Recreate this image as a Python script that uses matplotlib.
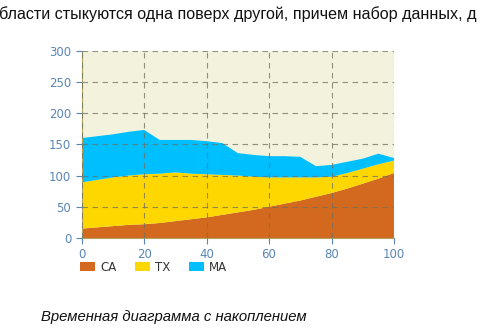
import matplotlib
matplotlib.use('Agg')
import matplotlib.pyplot as plt
import numpy as np

# ---- data ----
x = [0, 5, 10, 15, 20, 25, 30, 35, 40, 45, 50, 55, 60, 65, 70, 75, 80, 85, 90, 95, 100]
ca = [15, 17, 19, 21, 22, 24, 27, 30, 33, 37, 41, 45, 50, 55, 60, 66, 72, 79, 87, 95, 104]
tx_top = [89, 93, 97, 100, 102, 103, 105, 103, 102, 101, 100, 98, 97, 97, 97, 97, 98, 104, 111, 118, 124]
ma_top = [160, 163, 166, 170, 173, 157, 157, 157, 155, 152, 136, 133, 131, 131, 130, 115, 117, 122, 127, 135, 128]
tx = [t - c for t, c in zip(tx_top, ca)]
ma = [m - t for m, t in zip(ma_top, tx_top)]

labels = ['CA', 'TX', 'MA']
colors = ['#D2691E', '#FFD700', '#00BFFF']

tick_color = '#5A86B5'
spine_color = '#B5A15A'

fig = plt.figure(figsize=(4.9, 3.31), dpi=100)
ax = fig.add_axes([0.1667, 0.281, 0.6373, 0.566])
ax.set_facecolor('#F3F2DC')

ax.stackplot(x, ca, tx, ma, colors=colors, labels=labels, linewidth=0)

ax.set_xlim(0, 100)
ax.set_ylim(0, 300)
ax.set_xticks([0, 20, 40, 60, 80, 100])
ax.set_yticks([0, 50, 100, 150, 200, 250, 300])
ax.grid(True, linestyle=(0, (5, 4)), color='#707060', linewidth=0.8, alpha=0.75)
ax.set_axisbelow(False)

for s in ['top', 'right']:
    ax.spines[s].set_visible(False)
ax.spines['left'].set_color(spine_color)
ax.spines['bottom'].set_color(spine_color)
ax.tick_params(colors=tick_color, labelsize=8.5, length=4, width=0.8)
for lab in ax.get_xticklabels() + ax.get_yticklabels():
    lab.set_color(tick_color)
    lab.set_family('DejaVu Sans')

leg = ax.legend(loc='upper left', bbox_to_anchor=(-0.04, -0.065), ncol=3,
                frameon=False, handlelength=1.25, handleheight=0.75,
                columnspacing=1.6, handletextpad=0.45,
                prop={'family': 'DejaVu Sans', 'size': 8.5})
for t in leg.get_texts():
    t.set_color('#333333')

# header text (cut off at both sides as in the source page)
fig.text(-0.002, 0.958, 'бласти стыкуются одна поверх другой, причем набор данных, д',
         family='Liberation Sans', fontsize=11.6, color='#111111', va='center')

# caption
fig.text(0.084, 0.042, 'Временная диаграмма с накоплением',
         family='Liberation Sans', style='italic', fontsize=10.7,
         color='#111111', va='center')

fig.savefig('out.png', dpi=100)
